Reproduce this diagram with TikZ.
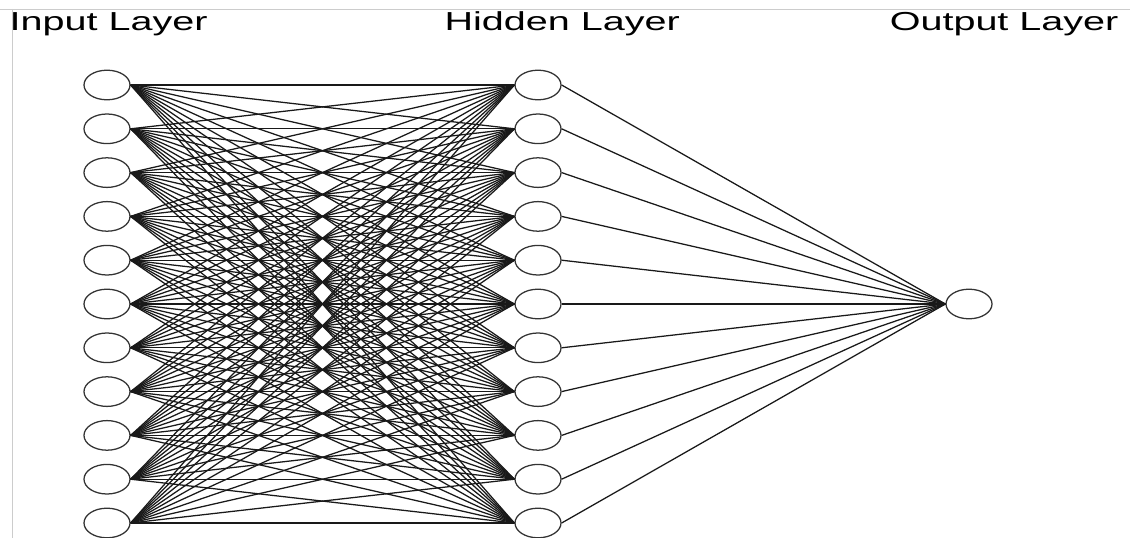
\documentclass[tikz,border=0pt]{standalone}
\usepackage{fontspec}
\setmainfont{Liberation Sans}
\usetikzlibrary{shapes.geometric}
\begin{document}
\begin{tikzpicture}[x=0.025cm, y=-0.025cm,
 every node/.style={ellipse, draw=black!80, line width=0.9pt, minimum width=1.15cm, minimum height=0.74cm, inner sep=0pt},
 title/.style={draw=none, rectangle, inner sep=0pt, font=\fontsize{18.5}{20}\selectfont},
 edge/.style={black!90, line width=0.9pt}]
 \useasboundingbox (0,0) rectangle (1130,538);
 \draw[black!20, line width=0.6pt] (0,9) -- (1130,9);
 \draw[black!20, line width=0.6pt] (12,9) -- (12,538);
 % layer titles
 \node[title, anchor=base west] (tin) at (9,31) {\scalebox{1.52}[1]{Input Layer}};
 \node[title, anchor=base west] (thid) at (444,31) {\scalebox{1.52}[1]{Hidden Layer}};
 \node[title, anchor=base east] (tout) at (1119,31) {\scalebox{1.52}[1]{Output Layer}};
 % neurons
 \foreach \i in {1,...,11} {
  \node (in\i) at (107,{85+43.8*(\i-1)}) {};
  \node (hid\i) at (538,{85+43.8*(\i-1)}) {};
 }
 \node (out) at (969,304) {};
 % connections
 \foreach \i in {1,...,11} {
  \foreach \j in {1,...,11}
   \draw[edge] (in\i.east) -- (hid\j.west);
  \draw[edge] (hid\i.east) -- (out.west);
 }
\end{tikzpicture}
\end{document}
